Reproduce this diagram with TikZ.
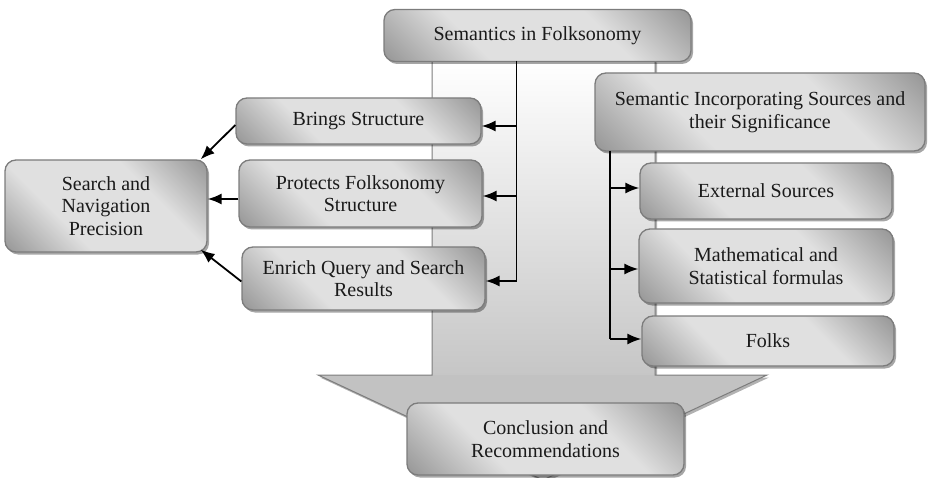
\documentclass[tikz,border=0pt]{standalone}
\usepackage{fontspec}
\setmainfont{Liberation Serif}
\usetikzlibrary{arrows.meta,shadows,calc}

\definecolor{boxdark}{HTML}{8C8C8C}
\definecolor{boxlight}{HTML}{E0E0E0}
\definecolor{boxedge}{HTML}{7C7C7C}
\definecolor{headgray}{HTML}{C2C2C2}
\definecolor{shaftgray}{HTML}{C6C6C6}
\definecolor{inktext}{HTML}{1A1A1A}

% metallic diagonal fill for the boxes: dark corners, broad light band
\pgfdeclareverticalshading{metal}{100bp}{%
  color(0bp)=(boxdark); color(12bp)=(boxdark); color(36bp)=(boxlight);
  color(64bp)=(boxlight); color(88bp)=(boxdark); color(100bp)=(boxdark)}

\begin{document}
\begin{tikzpicture}[x=1pt,y=-1pt,
  topic/.style={draw=boxedge, line width=1.3pt, rounded corners=11pt,
    shading=metal, shading angle=-45,
    drop shadow={shadow xshift=2pt, shadow yshift=-2.5pt, opacity=0.35, fill=black},
    align=center, text=inktext, inner sep=2pt,
    font=\fontsize{20}{22.5}\selectfont},
  link/.style={draw=black, line width=1.8pt},
  arr/.style={link, -{Latex[length=14pt,width=11pt]}},
]
\useasboundingbox (0,0) rectangle (928,478);

% large block arrow pointing down to the conclusion
\fill[black, opacity=0.3, xshift=2pt, yshift=-2.5pt]
  (432,60) -- (432,375) -- (318,375) -- (543,480) -- (767,375) -- (655,375) -- (655,60) -- cycle;
\shade[top color=white, bottom color=shaftgray] (432,60) rectangle (655,375);
\fill[headgray] (318,375) -- (543,480) -- (767,375) -- cycle;
\draw[boxedge, line width=1pt, line join=miter]
  (432,60) -- (432,375) -- (318,375) -- (543,480) -- (767,375) -- (655,375) -- (655,60);

% boxes
\node[topic, minimum width=307pt, minimum height=52pt] (top) at (537.5,35.5) {Semantics in Folksonomy};
\node[topic, minimum width=245pt, minimum height=46pt] (brings) at (358.5,121) {Brings Structure};
\node[topic, minimum width=243pt, minimum height=67pt] (protects) at (360.5,193.5) {Protects Folksonomy\\Structure};
\node[topic, minimum width=243pt, minimum height=63pt] (enrich) at (363.5,278.5) {Enrich Query and Search\\Results};
\node[topic, minimum width=202pt, minimum height=92pt] (search) at (106,206) {Search and\\Navigation\\Precision};
\node[topic, minimum width=330pt, minimum height=78pt] (sources) at (760,112) {Semantic Incorporating Sources and\\their Significance};
\node[topic, minimum width=252pt, minimum height=56pt] (external) at (766,191) {External Sources};
\node[topic, minimum width=254pt, minimum height=74pt] (maths) at (766,266) {Mathematical and\\Statistical formulas};
\node[topic, minimum width=252pt, minimum height=50pt] (folks) at (768,341) {Folks};
\node[topic, minimum width=277pt, minimum height=72pt] (concl) at (545.5,439) {Conclusion and\\Recommendations};

% left branch from the topic box
\coordinate (ltop) at (516.5,61);
\coordinate (inBrings) at ($(brings.east)+(0,5)$);
\coordinate (inProtects) at ($(protects.east)+(0,2.5)$);
\coordinate (inEnrich) at ($(enrich.east)+(0,2.5)$);
\draw[link] (ltop) -- (ltop |- inEnrich);
\draw[arr] (ltop |- inBrings) -- (inBrings);
\draw[arr] (ltop |- inProtects) -- (inProtects);
\draw[arr] (ltop |- inEnrich) -- (inEnrich);

% right branch from the sources box
\coordinate (rtop) at (610,151);
\coordinate (inExternal) at ($(external.west)+(0,-3)$);
\coordinate (inMaths) at ($(maths.west)+(0,3)$);
\coordinate (inFolks) at ($(folks.west)+(0,-2)$);
\draw[link] (rtop) -- (rtop |- inFolks);
\draw[arr] (rtop |- inExternal) -- (inExternal);
\draw[arr] (rtop |- inMaths) -- (inMaths);
\draw[arr] (rtop |- inFolks) -- (inFolks);

% links into the search box
\draw[arr] ($(brings.west)+(0,4)$) -- ($(search.north east)+(-7,0)$);
\draw[arr] ($(protects.west)+(0,5.5)$) -- ($(search.east)+(0,-7)$);
\draw[arr] ($(enrich.west)+(0,3)$) -- ($(search.south east)+(-7,-3)$);
\end{tikzpicture}
\end{document}
